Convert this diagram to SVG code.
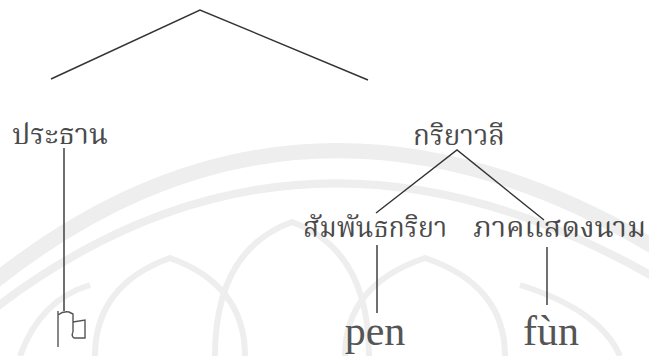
<svg xmlns="http://www.w3.org/2000/svg" width="649" height="356" viewBox="0 0 649 356">
<style>
.th{font-family:"Noto Serif Thai","Noto Sans Thai Looped","Noto Sans Thai","Garuda","Loma","DejaVu Sans",sans-serif;font-size:29px;fill:#4a4a4a}
.ro{font-family:"Liberation Serif","Times New Roman",serif;font-size:42px;fill:#555}
.ln{stroke:#333;stroke-width:1.4;fill:none}
.wm{fill:none;stroke:#eeeeee}
</style>
<rect width="649" height="356" fill="#fff"/>
<g id="watermark">
<path class="wm" stroke-width="15" d="M-10,285 Q300,35 659,250"/>
<path class="wm" stroke-width="8" d="M-10,312 Q300,72 659,280"/>
<path class="wm" stroke-width="6" d="M95,356 Q95,285 170,258 Q245,285 245,356"/>
<path class="wm" stroke-width="6" d="M215,356 Q215,250 292,222 Q369,250 369,356"/>
<path class="wm" stroke-width="6" d="M345,356 Q345,285 425,258 Q505,285 505,356"/>
<path class="wm" stroke-width="6" d="M20,356 Q40,300 90,285"/>
<path class="wm" stroke-width="6" d="M520,285 Q600,310 620,356"/>
</g>
<g id="connectors">
<polyline class="ln" points="51,79 200,10 368,80"/>
<line class="ln" x1="64" y1="148" x2="64" y2="311"/>
<polyline class="ln" points="376,213 457,150 544,220"/>
<line class="ln" x1="377" y1="245" x2="377" y2="313"/>
<line class="ln" x1="547" y1="247" x2="547" y2="305"/>
</g>
<g id="n-subject"><text class="th" x="12" y="144" textLength="96" lengthAdjust="spacingAndGlyphs">ประธาน</text></g>
<g id="n-vp"><text class="th" x="413" y="145" textLength="92" lengthAdjust="spacingAndGlyphs">กริยาวลี</text></g>
<g id="n-copula"><text class="th" x="303" y="237" textLength="144" lengthAdjust="spacingAndGlyphs">สัมพันธกริยา</text></g>
<g id="n-pred"><text class="th" x="473" y="237" textLength="173" lengthAdjust="spacingAndGlyphs">ภาคแสดงนาม</text></g>
<g id="n-leaf1"><path d="M58,311 L58,347 M58,315 Q63,311 69,312 L73,314 L73,332 M73,322 L85,320 L85,338 L74,338 Q71,336 73,332" fill="none" stroke="#555" stroke-width="1.4"/></g>
<g id="n-leaf2"><text class="ro" x="375" y="345" text-anchor="middle">pen</text></g>
<g id="n-leaf3"><text class="ro" x="551" y="345" text-anchor="middle">fùn</text></g>
</svg>
